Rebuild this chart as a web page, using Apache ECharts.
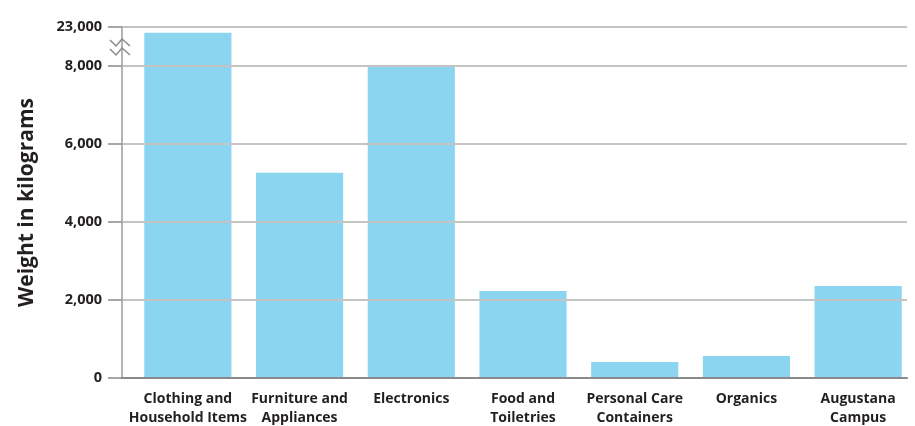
<!DOCTYPE html>
<html>
<head>
<meta charset="utf-8">
<script src="https://cdn.jsdelivr.net/npm/echarts@6/dist/echarts.min.js"></script>
<style>
html,body{margin:0;padding:0;background:#fff;}
#main{width:915px;height:426px;}
</style>
</head>
<body>
<div id="main"></div>
<script>
var categories = ['Clothing and\nHousehold Items', 'Furniture and\nAppliances', 'Electronics',
	'Food and\nToiletries', 'Personal Care\nContainers', 'Organics', 'Augustana\nCampus'];
var weights = [22850, 5260, 7980, 2230, 410, 565, 2360];
var tickValues = [0, 2000, 4000, 6000, 8000, 23000];
var axisBreak = { start: 8000, end: 22000, gap: 0 };

var barColor = '#8cd5f0';
var textColor = '#231f20';
var fontFamily = '"Open Sans", "DejaVu Sans", sans-serif';

var myChart = echarts.init(document.getElementById('main'));

function fmt(v) {
	return v.toLocaleString('en-US');
}

var option = {
	animation: false,
	grid: [
		// grid 0 : axis line + gridlines
		{ left: 122, right: 8, top: 27, bottom: 48, outerBoundsMode: 'none' },
		// grid 1 : bars
		{ left: 132, right: 1, top: 27, bottom: 48, outerBoundsMode: 'none' }
	],
	xAxis: [{
		gridIndex: 0,
		type: 'category',
		data: categories,
		axisLine: { lineStyle: { color: '#8a8a8a', width: 2 } },
		axisTick: { show: false },
		axisLabel: { show: false },
		z: 6
	}, {
		gridIndex: 1,
		type: 'category',
		data: categories,
		axisLine: { show: false },
		axisTick: { show: false },
		axisLabel: {
			interval: 0,
			color: textColor,
			fontFamily: fontFamily,
			fontWeight: 'bold',
			fontSize: 14,
			lineHeight: 19,
			margin: 12
		}
	}],
	yAxis: [{
		gridIndex: 0,
		type: 'value',
		min: 0,
		max: 23000,
		interval: 1000,
		breaks: [axisBreak],
		breakArea: { show: false },
		z: 5,
		name: 'Weight in kilograms',
		nameLocation: 'middle',
		nameRotate: 90,
		nameGap: 84,
		nameTextStyle: {
			color: textColor,
			fontFamily: fontFamily,
			fontWeight: 'bold',
			fontSize: 21
		},
		axisLine: { show: true, lineStyle: { color: '#b4b4b4', width: 2 } },
		axisTick: {
			show: true,
			length: 14,
			customValues: tickValues,
			lineStyle: { color: '#8a8a8a', width: 1.5 }
		},
		axisLabel: {
			customValues: tickValues,
			formatter: fmt,
			color: textColor,
			fontFamily: fontFamily,
			fontWeight: 'bold',
			fontSize: 14.5,
			margin: 20
		},
		splitLine: { show: true, lineStyle: { color: '#c4c4c4', width: 2 } }
	}, {
		gridIndex: 1,
		type: 'value',
		min: 0,
		max: 23000,
		interval: 1000,
		breaks: [axisBreak],
		breakArea: { show: false },
		show: false,
		splitLine: { show: false }
	}],
	graphic: [{
		type: 'polyline',
		shape: { points: [[110, 40], [116, 46], [122, 39], [130, 46]] },
		style: { stroke: '#8a8a8a', lineWidth: 1.5, fill: null },
		z: 10
	}, {
		type: 'polyline',
		shape: { points: [[110, 49], [116, 55], [122, 48], [130, 55]] },
		style: { stroke: '#8a8a8a', lineWidth: 1.5, fill: null },
		z: 10
	}],
	series: [{
		type: 'bar',
		xAxisIndex: 1,
		yAxisIndex: 1,
		data: weights,
		barCategoryGap: '22%',
		itemStyle: { color: barColor }
	}]
};
myChart.setOption(option);
</script>
</body>
</html>
